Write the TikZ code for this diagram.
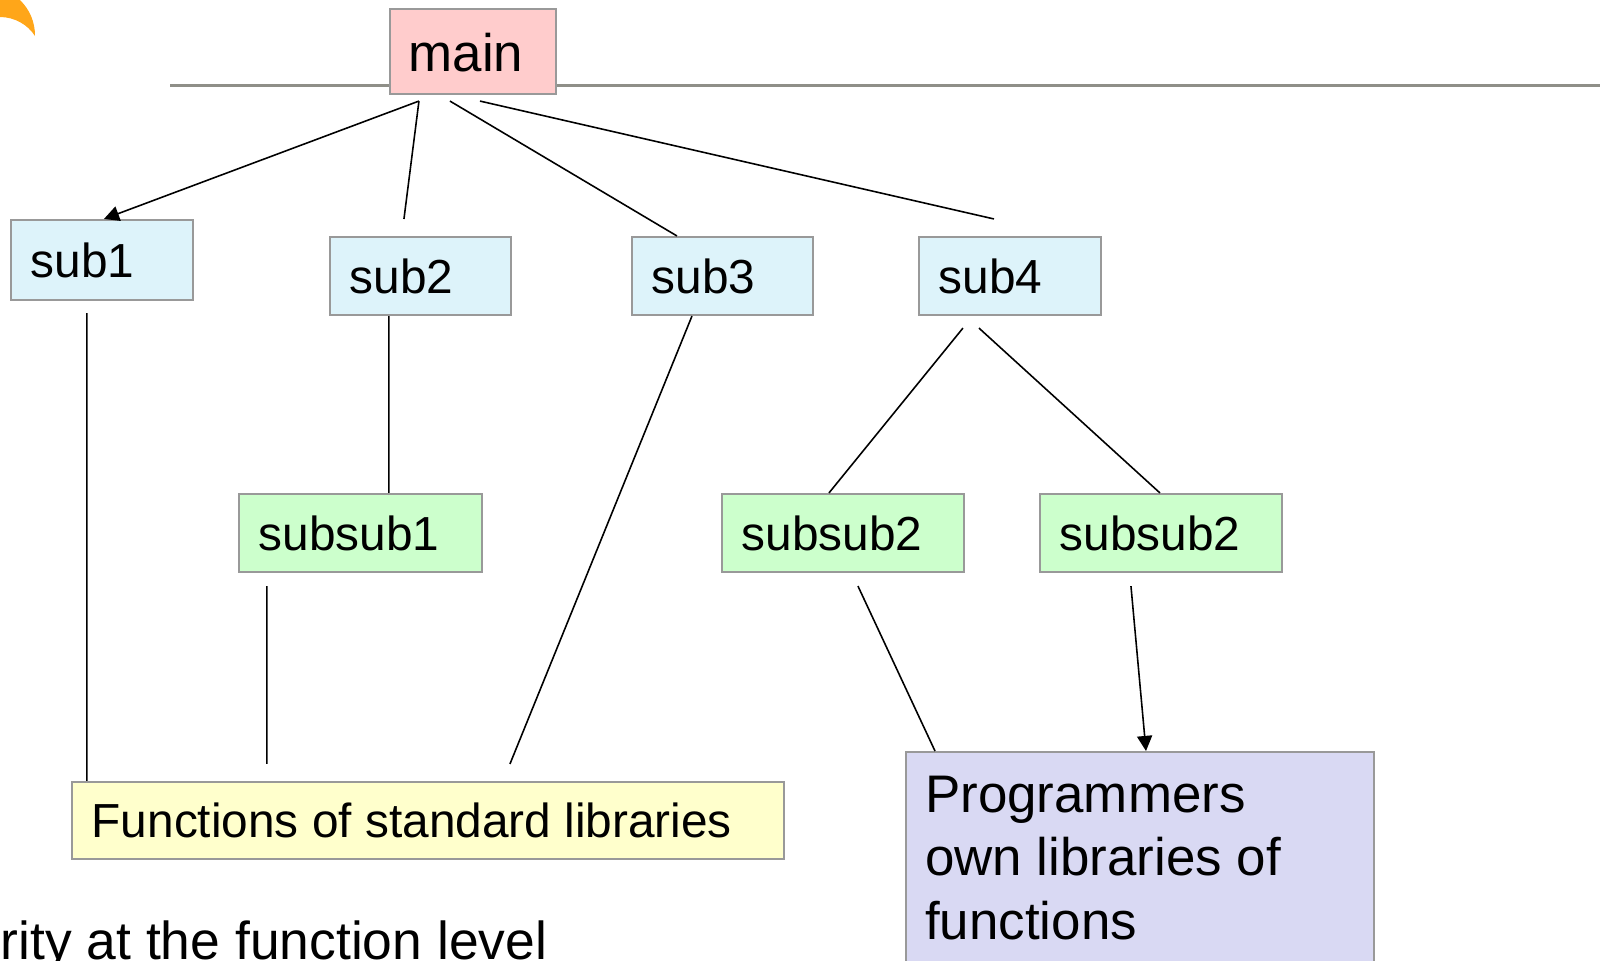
\documentclass[tikz,border=0pt]{standalone}
\usepackage{fontspec}
\newfontfamily\lblfont{Liberation Sans}
\usetikzlibrary{arrows.meta}

\definecolor{mainred}{HTML}{FFCCCC}
\definecolor{subblue}{HTML}{DDF3FA}
\definecolor{subgreen}{HTML}{CCFFCC}
\definecolor{stdyellow}{HTML}{FFFFCC}
\definecolor{ownviolet}{HTML}{D9D9F3}
\definecolor{edgegray}{HTML}{999999}
\definecolor{rulegray}{HTML}{8F8F88}
\definecolor{sunorange}{HTML}{FFA619}

\begin{document}
\begin{tikzpicture}[>={Triangle[length=4.3pt,width=4.3pt]},
    box/.style={rectangle,
                draw = edgegray,
                line width = 0.6pt,
                inner sep = 0pt},
    lbl/.style={anchor=base west,
                inner sep = 0pt,
                font=\lblfont\fontsize{13.6}{16}\selectfont},
    biglbl/.style={lbl,
                font=\lblfont\fontsize{15.05}{18.07}\selectfont},
    link/.style={line width = 0.45pt},
    call/.style={->, line width = 0.45pt}]

    \useasboundingbox (0,0) rectangle (16,-9.6);

    % corner of the slide
    \fill[sunorange] (0,0) -- (0.20,0) .. controls (0.30,-0.10) and (0.35,-0.22) .. (0.35,-0.36)
        .. controls (0.28,-0.25) and (0.15,-0.17) .. (0,-0.17) -- cycle;
    \draw[rulegray, line width = 0.85pt] (1.70,-0.85) -- (16,-0.85);

    \node[box,
          fill = mainred,
          minimum width = 1.66cm,
          minimum height = 0.85cm] (main) at (4.73,-0.515) {};
    \node[biglbl] at ([shift={(0.19,-0.20)}]main.west) {main};

    % first level
    \node[box,
          fill = subblue,
          minimum width = 1.82cm,
          minimum height = 0.80cm] (sub1) at (1.02,-2.60) {};
    \node[lbl] at ([shift={(0.20,-0.175)}]sub1.west) {sub1};

    \node[box,
          fill = subblue,
          minimum width = 1.81cm,
          minimum height = 0.78cm] (sub2) at (4.205,-2.76) {};
    \node[lbl] at ([shift={(0.20,-0.175)}]sub2.west) {sub2};

    \node[box,
          fill = subblue,
          minimum width = 1.81cm,
          minimum height = 0.78cm] (sub3) at (7.225,-2.76) {};
    \node[lbl] at ([shift={(0.20,-0.175)}]sub3.west) {sub3};

    \node[box,
          fill = subblue,
          minimum width = 1.82cm,
          minimum height = 0.78cm] (sub4) at (10.10,-2.76) {};
    \node[lbl] at ([shift={(0.20,-0.175)}]sub4.west) {sub4};

    % second level
    \node[box,
          fill = subgreen,
          minimum width = 2.43cm,
          minimum height = 0.78cm] (subsub1) at (3.605,-5.33) {};
    \node[lbl] at ([shift={(0.20,-0.175)}]subsub1.west) {subsub1};

    \node[box,
          fill = subgreen,
          minimum width = 2.42cm,
          minimum height = 0.78cm] (subsubA) at (8.43,-5.33) {};
    \node[lbl] at ([shift={(0.20,-0.175)}]subsubA.west) {subsub2};

    \node[box,
          fill = subgreen,
          minimum width = 2.42cm,
          minimum height = 0.78cm] (subsubB) at (11.61,-5.33) {};
    \node[lbl] at ([shift={(0.20,-0.175)}]subsubB.west) {subsub2};

    % libraries
    \node[box,
          fill = stdyellow,
          minimum width = 7.12cm,
          minimum height = 0.77cm] (std) at (4.28,-8.205) {};
    \node[lbl] at ([shift={(0.20,-0.165)}]std.west) {Functions of standard libraries};

    \node[box,
          fill = ownviolet,
          anchor = north west,
          minimum width = 4.68cm,
          minimum height = 2.60cm] (own) at (9.05,-7.51) {};
    \node[biglbl, align=left, anchor=north west] at ([shift={(0.195,-0.24)}]own.north west)
        {Programmers\\own libraries of\\functions};

    \node[biglbl, font=\lblfont\fontsize{15.2}{18}\selectfont] (level) at (0,-9.595) {rity at the function level};

    % calls
    \draw[call] ([shift={(0.30,-0.06)}]main.south west) -- ([xshift=0.94cm]sub1.north west);
    \draw[link] ([shift={(0.30,-0.06)}]main.south west) -- ([shift={(0.75,0.17)}]sub2.north west);
    \draw[link] ([shift={(0.61,-0.06)}]main.south west) -- ([xshift=0.46cm]sub3.north west);
    \draw[link] ([shift={(0.91,-0.06)}]main.south west) -- ([shift={(0.76,0.17)}]sub4.north west);

    \draw[link] ([shift={(0.77,-0.12)}]sub1.south west) -- ([xshift=0.16cm]std.north west);
    \draw[link] ([xshift=0.60cm]sub2.south west) -- ([xshift=1.51cm]subsub1.north west);
    \draw[link] ([xshift=0.61cm]sub3.south west) -- ([shift={(4.39,0.17)}]std.north west);
    \draw[link] ([shift={(0.29,-0.13)}]subsub1.south west) -- ([shift={(1.96,0.17)}]std.north west);

    \draw[link] ([shift={(0.45,-0.12)}]sub4.south west) -- ([xshift=1.08cm]subsubA.north west);
    \draw[link] ([shift={(0.61,-0.12)}]sub4.south west) -- ([xshift=1.21cm]subsubB.north west);
    \draw[link] ([shift={(1.37,-0.13)}]subsubA.south west) -- ([xshift=0.30cm]own.north west);
    \draw[call] ([shift={(0.92,-0.13)}]subsubB.south west) -- ([xshift=2.41cm]own.north west);

\end{tikzpicture}
\end{document}
